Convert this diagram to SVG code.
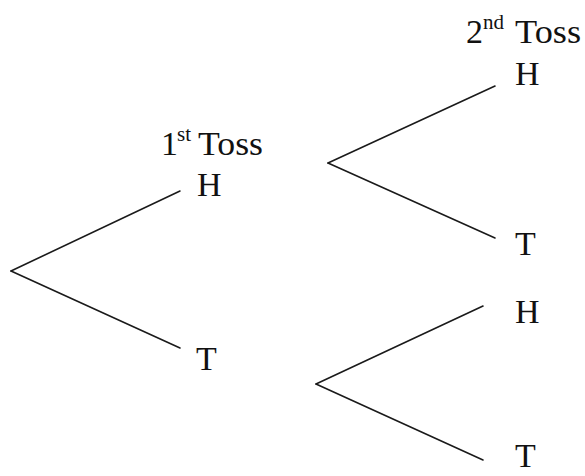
<svg xmlns="http://www.w3.org/2000/svg" width="585" height="476" viewBox="0 0 585 476">
<style>
.t{font-family:"Liberation Serif","Times New Roman",serif;font-size:34px;fill:#111}
.s{font-family:"Liberation Serif","Times New Roman",serif;font-size:21px;fill:#111}
.e{stroke:#1a1a1a;stroke-width:1.6;fill:none;stroke-linecap:round}
</style>
<rect width="585" height="476" fill="#fff"/>
<g id="connectors">
<line class="e" x1="11" y1="271" x2="180" y2="191"/>
<line class="e" x1="11" y1="271" x2="180" y2="348"/>
<line class="e" x1="328" y1="163" x2="495" y2="86"/>
<line class="e" x1="328" y1="163" x2="495" y2="238"/>
<line class="e" x1="316" y1="384" x2="483" y2="306"/>
<line class="e" x1="316" y1="384" x2="483" y2="460"/>
</g>
<g id="label-1st">
<text class="t" x="161" y="155">1</text><text class="s" x="177" y="141">st</text><text class="t" x="198" y="155" textLength="65" lengthAdjust="spacingAndGlyphs">Toss</text>
</g>
<g id="label-2nd">
<text class="t" x="466" y="43">2</text><text class="s" x="483" y="29">nd</text><text class="t" x="515" y="43" textLength="66" lengthAdjust="spacingAndGlyphs">Toss</text>
</g>
<g id="n-H1"><text class="t" x="197" y="196">H</text></g>
<g id="n-T1"><text class="t" x="196" y="370">T</text></g>
<g id="n-HH"><text class="t" x="515" y="85">H</text></g>
<g id="n-HT"><text class="t" x="515" y="255">T</text></g>
<g id="n-TH"><text class="t" x="515" y="323">H</text></g>
<g id="n-TT"><text class="t" x="515" y="467">T</text></g>
</svg>
